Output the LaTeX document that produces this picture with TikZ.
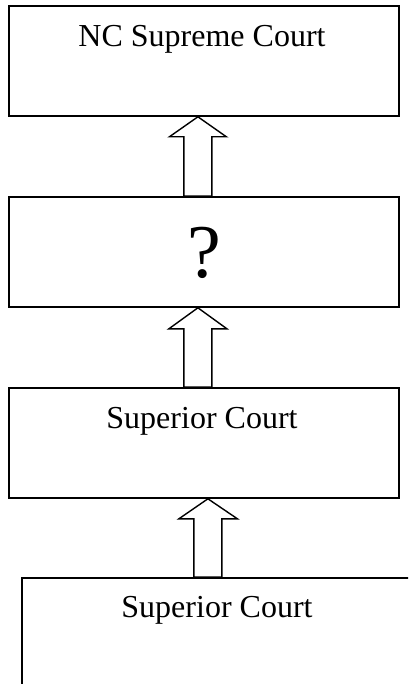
\documentclass[tikz,border=0pt]{standalone}
\usepackage{fontspec}
\setmainfont{Liberation Serif}
\usetikzlibrary{calc}
\begin{document}
\begin{tikzpicture}[x=1pt,y=-1pt,
  court/.style={draw, line width=1.8pt, minimum width=390pt, minimum height=110pt, inner sep=0pt, anchor=north west},
  courttext/.style={font=\fontsize{32}{36}\selectfont, anchor=base, inner sep=0pt},
  bigtext/.style={font=\fontsize{76}{80}\selectfont, anchor=base, inner sep=0pt},
  blockarrow/.style={draw, line width=1.4pt, line join=miter}]
\clip (0,0) rectangle (408,684);
\node[court] (b1) at (8,5) {};
\node[court] (b2) at (8,196) {};
\node[court] (b3) at (8,387) {};
\node[court] (b4) at (21,577) {};
\node[courttext] (t1) at (202,47) {NC Supreme Court};
\node[bigtext] (t2) at (204,277) {?};
\node[courttext] (t3) at (202,428) {Superior Court};
\node[courttext] (t4) at (217,617) {Superior Court};
% arrows
\coordinate (a1t) at ($(b1.south)+(-6,0)$);
\coordinate (a1b) at ($(b2.north)+(-6,0)$);
\coordinate (a2t) at ($(b2.south)+(-6,0)$);
\coordinate (a2b) at ($(b3.north)+(-6,0)$);
\coordinate (a3t) at ($(b3.south)+(4,0)$);
\coordinate (a3b) at ($(b4.north)+(-9,0)$);
\draw[blockarrow] (a1t) -- ++(28.5,20) -- ++(-14.5,0) -- ($(a1b)+(14,0)$) -- ($(a1b)+(-14,0)$) -- ($(a1t)+(-14,20)$) -- ++(-14.5,0) -- cycle;
\draw[blockarrow] (a2t) -- ++(29,21) -- ++(-15,0) -- ($(a2b)+(14,0)$) -- ($(a2b)+(-14,0)$) -- ($(a2t)+(-14,21)$) -- ++(-15,0) -- cycle;
\draw[blockarrow] (a3t) -- ++(29.5,20) -- ++(-15.5,0) -- ($(a3b)+(14,0)$) -- ($(a3b)+(-14,0)$) -- ($(a3t)+(-14,20)$) -- ++(-15,0) -- cycle;
\end{tikzpicture}
\end{document}
